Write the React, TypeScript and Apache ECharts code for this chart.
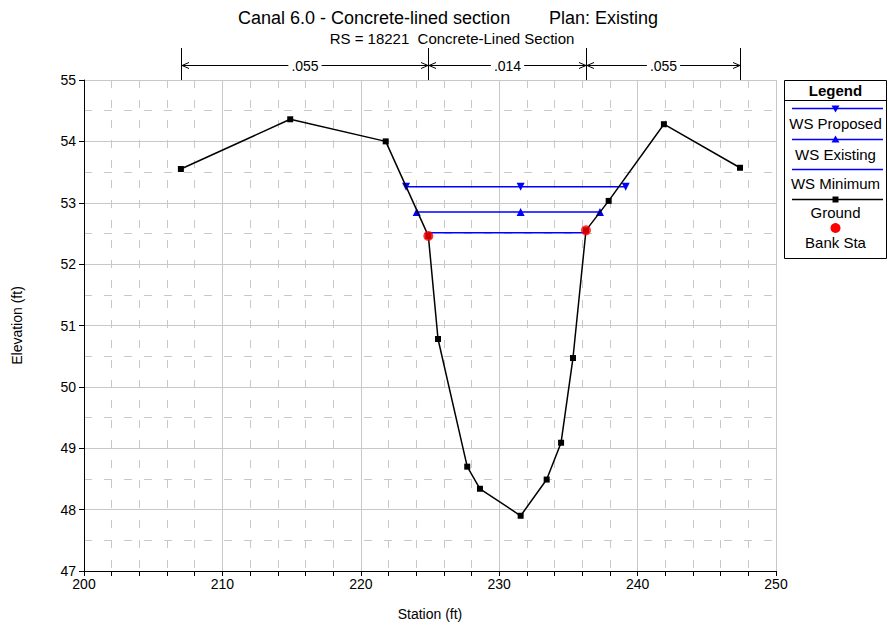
import React, { useEffect, useRef } from 'react';
import * as echarts from 'echarts';

// ---- data ----
const groundStation = [207.0, 214.9, 221.8, 224.88, 225.58, 227.69, 228.61, 231.55, 233.43, 234.47, 235.33, 236.27, 237.91, 241.9, 247.4];
const groundElev = [53.55, 54.36, 54.0, 52.46, 50.78, 48.7, 48.34, 47.9, 48.49, 49.09, 50.47, 52.55, 53.03, 54.28, 53.57];
const bankStation = [224.88, 236.27];
const bankElev = [52.46, 52.55];
const wsProposedStation = [223.27, 231.55, 239.14];
const wsProposedElev = [53.26, 53.26, 53.26];
const wsExistingStation = [224.04, 231.55, 237.28];
const wsExistingElev = [52.85, 52.85, 52.85];
const wsMinimumStation = [224.88, 236.27];
const wsMinimumElev = [52.51, 52.51];
const manningN = ['.055', '.014', '.055'];
const manningBreaks = [207.0, 224.88, 236.27, 247.4];
const xTicks = [200, 210, 220, 230, 240, 250];
const yTicks = [47, 48, 49, 50, 51, 52, 53, 54, 55];
const legendNames = ['WS Proposed', 'WS Existing', 'WS Minimum', 'Ground', 'Bank Sta'];
const titleMain = 'Canal 6.0 - Concrete-lined section';
const titlePlan = 'Plan: Existing';
const subTitle = 'RS = 18221  Concrete-Lined Section';

const zip = (a: number[], b: number[]) => a.map((v, i) => [v, b[i]]);

const FONT = '"Liberation Sans", Arial, Helvetica, sans-serif';
const BLUE = '#0000ff';

export default function App() {
  const ref = useRef<HTMLDivElement>(null);
  useEffect(() => {
    const el = ref.current!;
    const chart = echarts.init(el, undefined, { renderer: 'svg' });
    const axisCommon = {
      type: 'value',
      nameLocation: 'middle',
      nameTextStyle: { fontSize: 14, color: '#000', fontFamily: FONT },
      axisLine: { show: true, onZero: false, lineStyle: { color: '#000', width: 1 } },
      axisLabel: { fontSize: 14, color: '#000', fontFamily: FONT },
      splitLine: { show: true, lineStyle: { color: '#c8c8c8', width: 1 } },
      minorSplitLine: { show: true, lineStyle: { color: '#c8c8c8', width: 1, type: [8, 12] } },
    };
    chart.setOption({
      animation: false,
      backgroundColor: '#ffffff',
      textStyle: { fontFamily: FONT },
      grid: { left: 84, top: 80, right: 112, bottom: 58, containLabel: false },
      xAxis: {
        ...axisCommon,
        min: xTicks[0],
        max: xTicks[xTicks.length - 1],
        interval: xTicks[1] - xTicks[0],
        name: 'Station (ft)',
        nameGap: 36,
        axisTick: { show: true, length: 5, lineStyle: { color: '#000' } },
        minorTick: { show: true, splitNumber: 5, length: 5, lineStyle: { color: '#000' } },
        axisLabel: { ...axisCommon.axisLabel, margin: 6 },
      },
      yAxis: {
        ...axisCommon,
        min: yTicks[0],
        max: yTicks[yTicks.length - 1],
        interval: yTicks[1] - yTicks[0],
        name: 'Elevation (ft)',
        nameGap: 60,
        axisTick: { show: true, length: 5, lineStyle: { color: '#000' } },
        minorTick: { show: false, splitNumber: 2 },
        axisLabel: { ...axisCommon.axisLabel, margin: 8 },
      },
      series: [
        {
          type: 'line', name: legendNames[2], data: zip(wsMinimumStation, wsMinimumElev),
          symbol: 'none', lineStyle: { color: BLUE, width: 1.5 }, z: 2,
        },
        {
          type: 'line', name: legendNames[1], data: zip(wsExistingStation, wsExistingElev),
          symbol: 'triangle', symbolSize: 8, showAllSymbol: true,
          itemStyle: { color: BLUE }, lineStyle: { color: BLUE, width: 1.5 }, z: 2,
        },
        {
          type: 'line', name: legendNames[0], data: zip(wsProposedStation, wsProposedElev),
          symbol: 'triangle', symbolRotate: 180, symbolSize: 8, showAllSymbol: true,
          itemStyle: { color: BLUE }, lineStyle: { color: BLUE, width: 1.5 }, z: 2,
        },
        {
          type: 'line', name: legendNames[3], data: zip(groundStation, groundElev),
          symbol: 'rect', symbolSize: 6, showAllSymbol: true,
          itemStyle: { color: '#000' }, lineStyle: { color: '#000', width: 1.5 }, z: 3,
        },
        {
          type: 'scatter', name: legendNames[4], data: zip(bankStation, bankElev),
          symbol: 'circle', symbolSize: 10, itemStyle: { color: '#ff0000' }, z: 4,
        },
      ],
    });

    // top Manning's n annotation, positioned through the x axis scale
    const xs = manningBreaks.map((s) => chart.convertToPixel({ xAxisIndex: 0 }, s) as number);
    const plotTop = chart.convertToPixel({ yAxisIndex: 0 }, yTicks[yTicks.length - 1]) as number;
    const arrowY = 65.5;
    const g: any[] = [];
    xs.forEach((x) => {
      const xx = Math.round(x) + 0.5;
      g.push({ type: 'line', shape: { x1: xx, y1: 48, x2: xx, y2: plotTop }, style: { stroke: '#000', lineWidth: 1 }, z: 10 });
    });
    for (let i = 0; i < manningN.length; i++) {
      const a = Math.round(xs[i]) + 1;
      const b = Math.round(xs[i + 1]);
      g.push({ type: 'line', shape: { x1: a, y1: arrowY, x2: b, y2: arrowY }, style: { stroke: '#000', lineWidth: 1 }, z: 10 });
      g.push({ type: 'polyline', shape: { points: [[a + 7, arrowY - 3], [a, arrowY], [a + 7, arrowY + 3]] }, style: { stroke: '#000', fill: null, lineWidth: 1 }, z: 10 });
      g.push({ type: 'polyline', shape: { points: [[b - 7, arrowY - 3], [b, arrowY], [b - 7, arrowY + 3]] }, style: { stroke: '#000', fill: null, lineWidth: 1 }, z: 10 });
      g.push({
        type: 'text', x: (a + b) / 2, y: arrowY, z: 11,
        style: {
          text: manningN[i], fontSize: 14, fontFamily: FONT, fill: '#000',
          align: 'center', verticalAlign: 'middle', backgroundColor: '#fff', padding: [0, 3],
        },
      });
    }

    // titles
    g.push({ type: 'text', x: 238, y: 18, style: { text: titleMain, fontSize: 18, fontFamily: FONT, fill: '#000', align: 'left', verticalAlign: 'middle' } });
    g.push({ type: 'text', x: 549, y: 18, style: { text: titlePlan, fontSize: 18, fontFamily: FONT, fill: '#000', align: 'left', verticalAlign: 'middle' } });
    g.push({ type: 'text', x: 452, y: 38, style: { text: subTitle, fontSize: 15, fontFamily: FONT, fill: '#000', align: 'center', verticalAlign: 'middle' } });

    // legend box
    const L = 784.5, R = 886.5, T = 80.5, B = 258.5, cx = 835.5;
    g.push({ type: 'rect', shape: { x: L, y: T, width: R - L, height: B - T }, style: { fill: '#fff', stroke: '#000', lineWidth: 1 }, z: 20 });
    g.push({ type: 'text', x: cx, y: 90, z: 21, style: { text: 'Legend', fontSize: 15, fontWeight: 'bold', fontFamily: FONT, fill: '#000', align: 'center', verticalAlign: 'middle' } });
    g.push({ type: 'line', shape: { x1: L, y1: 100.5, x2: R, y2: 100.5 }, style: { stroke: '#000', lineWidth: 1 }, z: 21 });
    const lineYs = [108.5, 139.5, 169.5, 199.5];
    const textYs = [123, 154, 183, 212, 242];
    const lineColors = [BLUE, BLUE, BLUE, '#000'];
    lineYs.forEach((y, i) => {
      g.push({ type: 'line', shape: { x1: 792, y1: y, x2: 883, y2: y }, style: { stroke: lineColors[i], lineWidth: 1.5 }, z: 21 });
    });
    g.push({ type: 'polygon', shape: { points: [[cx - 4, lineYs[0] - 3], [cx + 4, lineYs[0] - 3], [cx, lineYs[0] + 4]] }, style: { fill: BLUE }, z: 22 });
    g.push({ type: 'polygon', shape: { points: [[cx - 4, lineYs[1] + 3], [cx + 4, lineYs[1] + 3], [cx, lineYs[1] - 4]] }, style: { fill: BLUE }, z: 22 });
    g.push({ type: 'rect', shape: { x: cx - 3, y: lineYs[3] - 3, width: 6, height: 6 }, style: { fill: '#000' }, z: 22 });
    g.push({ type: 'circle', shape: { cx, cy: 228, r: 5 }, style: { fill: '#ff0000' }, z: 22 });
    legendNames.forEach((n, i) => {
      g.push({ type: 'text', x: cx, y: textYs[i], z: 21, style: { text: n, fontSize: 15, fontFamily: FONT, fill: '#000', align: 'center', verticalAlign: 'middle' } });
    });

    chart.setOption({ graphic: g });
    return () => chart.dispose();
  }, []);
  return <div ref={ref} style={{ position: 'absolute', left: 0, top: 0, width: 888, height: 629 }} />;
}
